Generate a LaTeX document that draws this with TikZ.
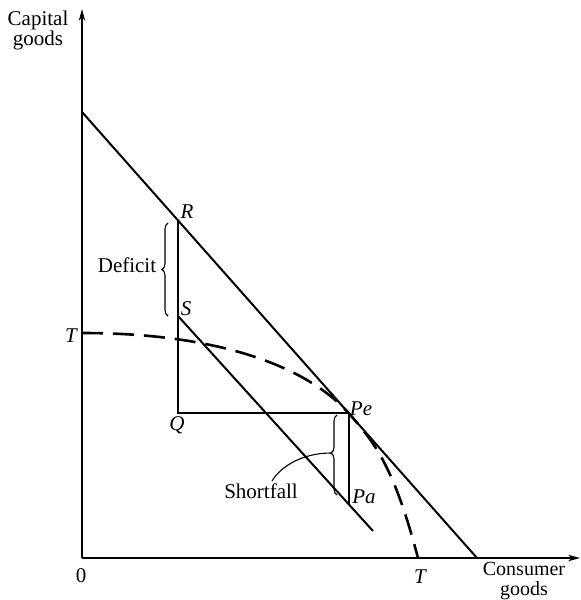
\documentclass[tikz,border=0pt]{standalone}
\usepackage{fontspec}
\setmainfont{Liberation Serif}
\usetikzlibrary{decorations.pathreplacing,arrows.meta}
\begin{document}
\begin{tikzpicture}[x=1pt,y=-1pt,
  axis/.style={line width=1.2pt,-{Stealth[length=12pt,width=6.5pt]}},
  mainline/.style={line width=2pt},
  dashcurve/.style={line width=2.6pt,dash pattern=on 21pt off 10pt},
  lbl/.style={font=\fontsize{21}{17}\selectfont,inner sep=0pt},
  ilbl/.style={font=\fontsize{21}{17}\selectfont\itshape,inner sep=0pt,anchor=base},
  bracestyle/.style={line width=1.1pt,decorate,decoration={brace,amplitude=6pt,#1}}
]
\useasboundingbox (0,0) rectangle (581,600);
% key points
\coordinate (O) at (82,558);
\coordinate (Ytop) at (82,9);
\coordinate (Xend) at (580,558);
\coordinate (A) at (82,112);
\coordinate (B) at (477,558);
\coordinate (Rp) at (178,220.4);
\coordinate (Sp) at (178,316);
\coordinate (Qp) at (178,413);
\coordinate (Pep) at (348.6,413);
\coordinate (Lend) at (373,531);
\coordinate (Pap) at (348.6,504);
\coordinate (Ty) at (82,333);
\coordinate (Tx) at (418,558);
\coordinate (dbot) at (168,316);
\coordinate (dtop) at (168,223);
\coordinate (sbot) at (337,495);
\coordinate (stop) at (337,415);
\coordinate (stip) at (331,453);
\coordinate (send) at (272,481);
% axes
\draw[axis] (O) -- (Ytop);
\draw[axis] (O) -- (Xend);
% budget line and shifted line
\draw[mainline] (A) -- (B);
\draw[mainline] (Sp) -- (Lend);
\draw[mainline] (Rp) -- (Qp) -- (Pep) -- (Pap);
% transformation curve
\draw[dashcurve] (Ty) .. controls (222,333) and (308,368) .. (Pep)
  .. controls (373,441.2) and (393,463) .. (Tx);
% braces
\draw[bracestyle={aspect=0.5}] (dbot) -- (dtop);
\draw[bracestyle={aspect=0.525}] (sbot) -- (stop);
\draw[line width=1.1pt] (stip) .. controls (303,453) and (281,466) .. (send);
% labels
\node[lbl,align=center,anchor=north] (cap) at (38,10.5) {Capital\\goods};
\node[lbl,align=center,anchor=north,font=\fontsize{20}{19.5}\selectfont] (con) at (524,562.5) {Consumer\\goods};
\node[lbl,anchor=base] (zero) at (81,582) {0};
\node[ilbl] (Tb) at (420,583) {T};
\node[ilbl] (Tl) at (71,342) {T};
\node[ilbl] (R) at (187,218) {R};
\node[ilbl] (S) at (186,315) {S};
\node[ilbl] (Q) at (177,430) {Q};
\node[ilbl] (Pe) at (361,415) {Pe};
\node[ilbl] (Pa) at (364,503) {Pa};
\node[lbl,anchor=base] (def) at (127,272) {Deficit};
\node[lbl,anchor=base] (sf) at (261,498) {Shortfall};
\end{tikzpicture}
\end{document}
